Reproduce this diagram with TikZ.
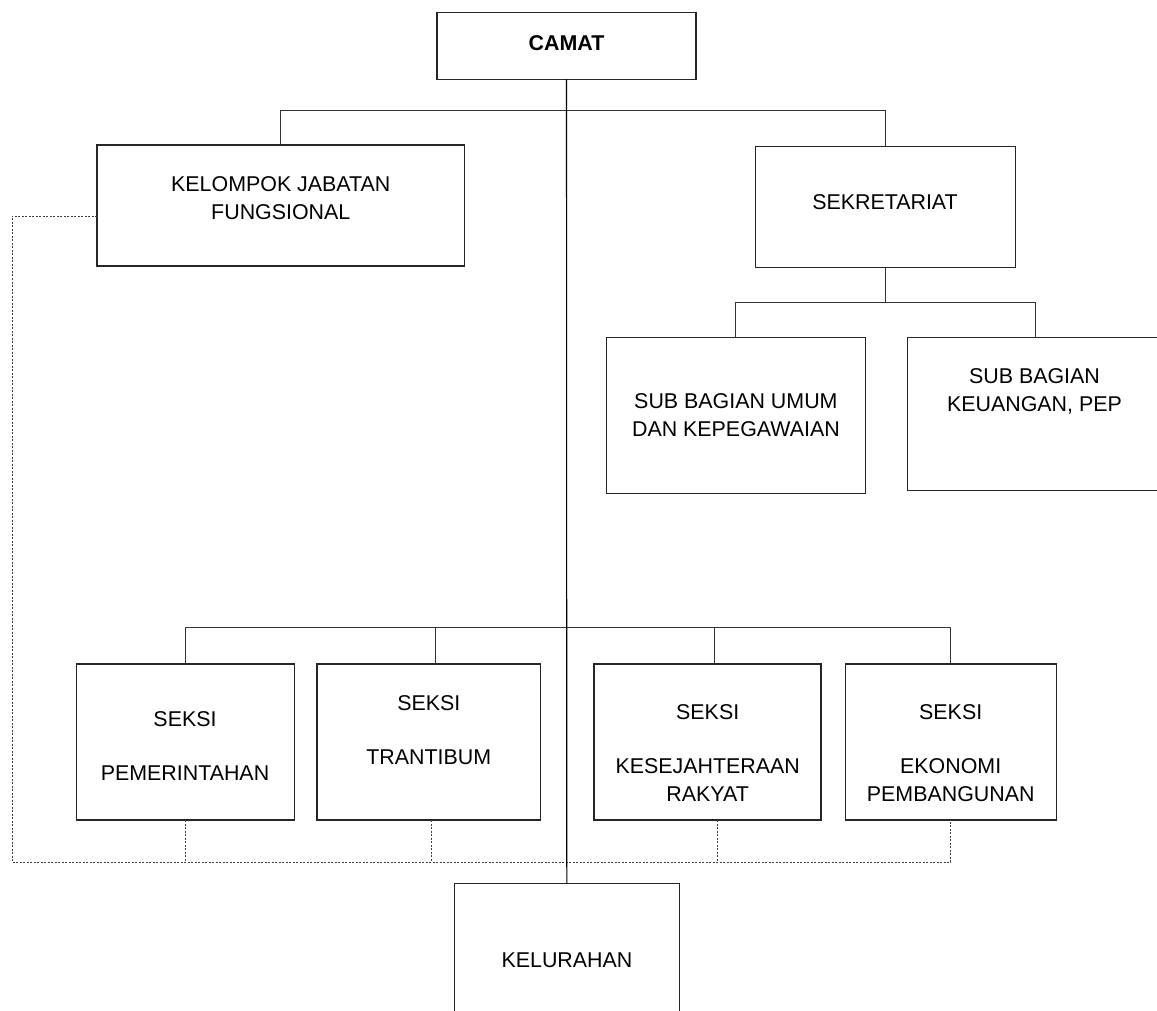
\documentclass[tikz,border=0pt]{standalone}
\usepackage{fontspec}
\setmainfont{Liberation Sans}
\begin{document}
\begin{tikzpicture}[x=1pt,y=-1pt,
  box/.style={draw=black!85, line width=1.1pt, inner sep=0pt, outer sep=0pt},
  lab/.style={align=center, inner sep=0pt, outer sep=0pt, text depth=0pt, font=\fontsize{21.4}{28}\selectfont},
  conn/.style={draw=black!80, line width=1pt},
  trunk/.style={draw=black, line width=1.1pt},
  dotline/.style={draw=black!75, line width=0.9pt, dash pattern=on 2pt off 1.5pt}]
\fill[white] (0,0) rectangle (1157,1011);
\path[use as bounding box] (0,0) rectangle (1157,1011);
\begin{scope}
\clip (0,0) rectangle (1157,1011);
% boxes
\node[box, minimum width=259pt, minimum height=66.6pt] (camat) at (566.5,46) {};
\node[box, minimum width=367.6pt, minimum height=121pt] (kjf) at (280.8,205.5) {};
\node[box, minimum width=259.7pt, minimum height=120.6pt] (sek) at (885.2,207) {};
\node[box, minimum width=258.7pt, minimum height=155.3pt] (sbu) at (735.9,415.4) {};
\node[box, minimum width=255.4pt, minimum height=153.2pt] (sbk) at (1035.3,414.1) {};
\node[box, minimum width=218.1pt, minimum height=156pt] (pem) at (185.3,742) {};
\node[box, minimum width=223.5pt, minimum height=156pt] (trant) at (428.7,742) {};
\node[box, minimum width=227pt, minimum height=156pt] (kes) at (707.5,742) {};
\node[box, minimum width=210.7pt, minimum height=156pt] (eko) at (950.7,742) {};
\node[box, minimum width=225pt, minimum height=160pt] (kel) at (566.8,963.3) {};
% labels
\node[lab, font=\fontsize{21.4}{28}\selectfont\bfseries] (tcamat) at (566.5,42.7) {CAMAT};
\node[lab] (tkjf) at (280.8,198.5) {KELOMPOK JABATAN\\FUNGSIONAL};
\node[lab] (tsek) at (885,201.7) {SEKRETARIAT};
\node[lab] (tsbu) at (735.9,415.4) {SUB BAGIAN UMUM\\DAN KEPEGAWAIAN};
\node[lab] (tsbk) at (1034.5,390.4) {SUB BAGIAN\\KEUANGAN, PEP};
\node[lab] (tpem) at (185,746.5) {SEKSI\\[26pt]PEMERINTAHAN};
\node[lab] (ttrant) at (428.8,730.4) {SEKSI\\[26pt]TRANTIBUM};
\node[lab] (tkes) at (707.7,753) {SEKSI\\[26pt]KESEJAHTERAAN\\RAKYAT};
\node[lab] (teko) at (950.7,753) {SEKSI\\[26pt]EKONOMI\\PEMBANGUNAN};
\node[lab] (tkel) at (567,960) {KELURAHAN};
% helper coordinates
\coordinate (h1) at (566.5,111);
\coordinate (h2) at (885.2,302);
\coordinate (h3) at (566.5,627);
\coordinate (b2) at (435.5,627);
\coordinate (b3) at (714.3,627);
\coordinate (kjfd) at (97,216);
\coordinate (d0) at (12,862);
\coordinate (d2) at (431.7,862);
\coordinate (d3) at (717.7,862);
% dotted links
\draw[dotline] (kjfd) -| (d0) -- (d0 -| eko.south) -- (eko.south);
\draw[dotline] (pem.south) -- (pem.south |- d0);
\draw[dotline] (d2 |- trant.south) -- (d2);
\draw[dotline] (d3 |- kes.south) -- (d3);
% solid links
\draw[conn] (kjf.north) -- (kjf.north |- h1) -- (sek.north |- h1) -- (sek.north);
\draw[conn] (sek.south) -- (h2);
\draw[conn] (sbu.north) -- (sbu.north |- h2) -- (sbk.north |- h2) -- (sbk.north);
\draw[conn] (pem.north) -- (pem.north |- h3) -- (eko.north |- h3) -- (eko.north);
\draw[conn] (b2) -- (b2 |- trant.north);
\draw[conn] (b3) -- (b3 |- kes.north);
\draw[trunk] (camat.south) -- (kel.north);
\end{scope}
\end{tikzpicture}
\end{document}
